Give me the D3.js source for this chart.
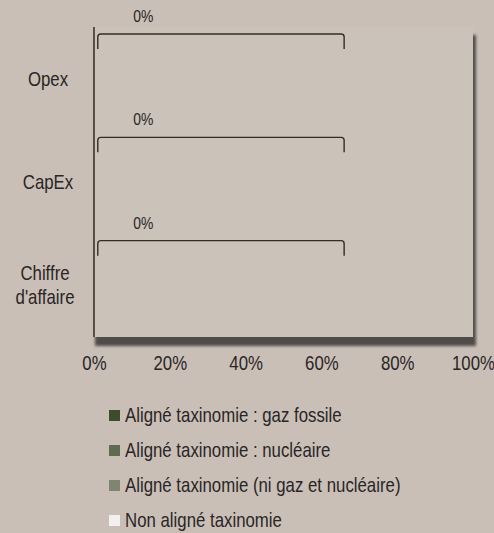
<!DOCTYPE html>
<html><head><meta charset="utf-8">
<script src="https://cdn.jsdelivr.net/npm/d3@7"></script>
<style>
html,body{margin:0;padding:0;background:#c9bfb6;}
svg{display:block;}
text{font-family:"Liberation Sans",Arial,sans-serif;fill:#2a2626;}
</style></head>
<body><svg id="chart" width="494" height="533"></svg>
<script>
const categories = ["Opex", "CapEx", "Chiffre d'affaire"];
const seriesNames = ["Aligné taxinomie : gaz fossile", "Aligné taxinomie : nucléaire", "Aligné taxinomie (ni gaz et nucléaire)", "Non aligné taxinomie"];
const seriesColors = ["#3e4b2c", "#5e6b4f", "#7f8571", "#f3f1ef"];
const gazFossile = [0, 0, 0];
const nucleaire = [0, 0, 0];
const niGazNiNucleaire = [0, 0, 0];
const nonAligne = [0, 0, 0];
const alignedLabels = ["0%", "0%", "0%"];
const bracketFrom = [1, 1, 1];
const bracketTo = [66, 66, 66];
const labelAt = [13, 13, 13];
const xTicks = [0, 20, 40, 60, 80, 100];

const SX = 0.82; // narrow face emulation
const svg = d3.select("#chart");
const plot = {left: 94, right: 473, top: 27, bottom: 337};
const x = d3.scaleLinear().domain([0, 100]).range([plot.left, plot.right]);
const y = d3.scaleBand().domain(categories).range([plot.top, plot.bottom]).padding(0);

function label(parent, tx, ty, str, size, anchor) {
  return parent.append("text")
    .attr("transform", `translate(${tx},${ty}) scale(${SX},1)`)
    .attr("x", 0).attr("y", 0)
    .attr("text-anchor", anchor || "start")
    .style("font-size", size + "px").text(str);
}

const defs = svg.append("defs");
defs.append("filter").attr("id", "blur").attr("x", "-10%").attr("y", "-10%").attr("width", "120%").attr("height", "120%")
  .append("feGaussianBlur").attr("stdDeviation", 1.6);

// shadow
svg.append("rect").attr("x", plot.left + 1).attr("y", plot.top + 8)
  .attr("width", plot.right - plot.left + 2).attr("height", plot.bottom - plot.top + 1)
  .attr("fill", "#4f4b48").attr("filter", "url(#blur)");
// plot area
svg.append("rect").attr("x", plot.left).attr("y", plot.top)
  .attr("width", plot.right - plot.left).attr("height", plot.bottom - plot.top)
  .attr("fill", "#cbc2ba");

// stacked bars
const rows = categories.map((c, i) => ({cat: c, vals: [gazFossile[i], nucleaire[i], niGazNiNucleaire[i], nonAligne[i]]}));
rows.forEach(r => {
  let acc = 0;
  r.vals.forEach((v, k) => {
    svg.append("rect").attr("x", x(acc)).attr("y", y(r.cat) + y.bandwidth() * 0.3)
      .attr("width", x(acc + v) - x(acc)).attr("height", y.bandwidth() * 0.5)
      .attr("fill", seriesColors[k]);
    acc += v;
  });
});

// brackets and labels
categories.forEach((c, i) => {
  const y0 = y(c) + 7, y1 = y0 + 15, xa = x(bracketFrom[i]), xb = x(bracketTo[i]), r = 3;
  svg.append("path")
    .attr("d", `M${xa},${y1} L${xa},${y0 + r} Q${xa},${y0} ${xa + r},${y0} L${xb - r},${y0} Q${xb},${y0} ${xb},${y0 + r} L${xb},${y1}`)
    .attr("fill", "none").attr("stroke", "#3a2a26").attr("stroke-width", 1.4);
  label(svg, x(labelAt[i]), y(c) - 5, alignedLabels[i], 17, "middle");
});

// y axis line
svg.append("line").attr("x1", plot.left).attr("x2", plot.left).attr("y1", plot.top).attr("y2", plot.bottom)
  .attr("stroke", "#3a2a26").attr("stroke-width", 1.5);

// category labels
categories.forEach(c => {
  const cy = y(c) + y.bandwidth() / 2;
  if (c === "Chiffre d'affaire") {
    label(svg, 45, cy - 5, "Chiffre", 20.5, "middle");
    label(svg, 45, cy + 19, "d'affaire", 20.5, "middle");
  } else {
    label(svg, 48, cy + 7, c, 20.5, "middle");
  }
});

// x axis
const xAxis = d3.axisBottom(x).tickValues(xTicks).tickFormat(d => d + "%").tickSize(0).tickPadding(0);
const gx = svg.append("g").attr("transform", `translate(0,${plot.bottom})`).call(xAxis);
gx.select(".domain").remove();
gx.selectAll("text").attr("dy", null).attr("y", 0)
  .attr("transform", `translate(0,33) scale(${SX},1)`)
  .style("font-size", "20.5px")
  .style("font-family", '"Liberation Sans",Arial,sans-serif').attr("fill", "#2a2626");

// legend
const lg = svg.append("g");
seriesNames.forEach((s, k) => {
  const by = 422 + k * 35;
  lg.append("rect").attr("x", 109).attr("y", by - 12).attr("width", 11).attr("height", 11).attr("fill", seriesColors[k]);
  label(lg, 125, by, s, 20.5, "start");
});
</script></body></html>
